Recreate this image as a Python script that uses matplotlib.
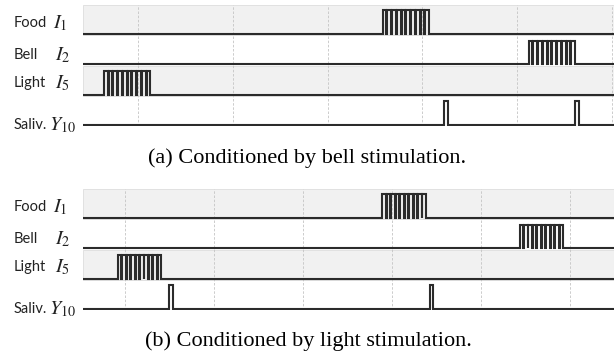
import matplotlib.pyplot as plt

W, H = 614, 356

# row names and symbols (top to bottom)
row_names = ["Food", "Bell", "Light", "Saliv."]
row_syms = [r"$I_1$", r"$I_2$", r"$I_5$", r"$Y_{10}$"]

# panel (a): conditioned by bell
a_xlim = (42, 602)
a_spikes = {
    "Food": [358, 363, 368, 373, 378, 383, 388, 393, 398, 403],
    "Bell": [512, 517, 522, 527, 532, 537, 542, 547, 552, 557],
    "Light": [64, 69, 74, 79, 84, 89, 94, 99, 104, 109],
    "Saliv.": [423, 561],
}

# panel (b): conditioned by light
b_xlim = (53, 649)
b_spikes = {
    "Food": [389, 394, 399, 404, 409, 414, 419, 424, 429, 434],
    "Bell": [543, 548, 553, 558, 563, 568, 573, 578, 583, 588],
    "Light": [92, 97, 102, 107, 112, 117, 122, 127, 132, 137],
    "Saliv.": [150, 442],
}

grid_x = [100, 200, 300, 400, 500, 600]
captions = ["(a) Conditioned by bell stimulation.",
            "(b) Conditioned by light stimulation."]

TRAIN_W = 4.0
SALIV_W = 4.0
LINE_C = "#2b2b2b"


def px(x, y):
    return x / W, 1 - y / H


def draw_panel(ax, xlim, spikes):
    ax.set_xlim(*xlim)
    ax.set_ylim(0, 4)
    for k, name in enumerate(row_names):
        lo = 3 - k
        if k % 2 == 0:
            ax.axhspan(lo, lo + 1, facecolor="#f1f1f1", edgecolor="#dddddd",
                       lw=0.6, zorder=0)
        base = lo + 0.04
        high = lo + 0.82
        w = SALIV_W if name == "Saliv." else TRAIN_W
        xs, ys = [xlim[0]], [base]
        for s in spikes[name]:
            xs += [s, s, s + w, s + w]
            ys += [base, high, high, base]
        xs.append(xlim[1])
        ys.append(base)
        ax.plot(xs, ys, color=LINE_C, lw=1.5, solid_joinstyle="miter", zorder=3)
    for g in grid_x:
        ax.axvline(g, color="#c4c4c4", lw=0.6, ls=(0, (3, 2)), zorder=1)
    ax.set_xticks([])
    ax.set_yticks([])
    for sp in ax.spines.values():
        sp.set_visible(False)


fig = plt.figure(figsize=(W / 100, H / 100), dpi=100)

panels = [(5, 126, a_xlim, a_spikes), (189, 310, b_xlim, b_spikes)]
label_dy = [3, 5, 2.5, 14]
sym_x = [53, 55, 55, 49]
for i, (top, bot, xlim, spikes) in enumerate(panels):
    l, t = px(83, top)
    r, b = px(614, bot)
    ax = fig.add_axes([l, b, r - l, t - b])
    draw_panel(ax, xlim, spikes)
    pitch = (bot - top) / 4
    for k in range(4):
        yc = top + pitch * (k + 0.5) + label_dy[k]
        fig.text(*px(14, yc), row_names[k], ha="left", va="center",
                 fontsize=10.5, family="Lato", color="#222222")
        fig.text(*px(sym_x[k], yc), row_syms[k], ha="left", va="center",
                 fontsize=14.5, color="#222222", math_fontfamily="stix")

fig.text(*px(307, 158), captions[0], ha="center", va="center",
         fontsize=16, family="Liberation Serif")
fig.text(*px(308, 341), captions[1], ha="center", va="center",
         fontsize=16, family="Liberation Serif")

fig.savefig("out.png", dpi=100)
